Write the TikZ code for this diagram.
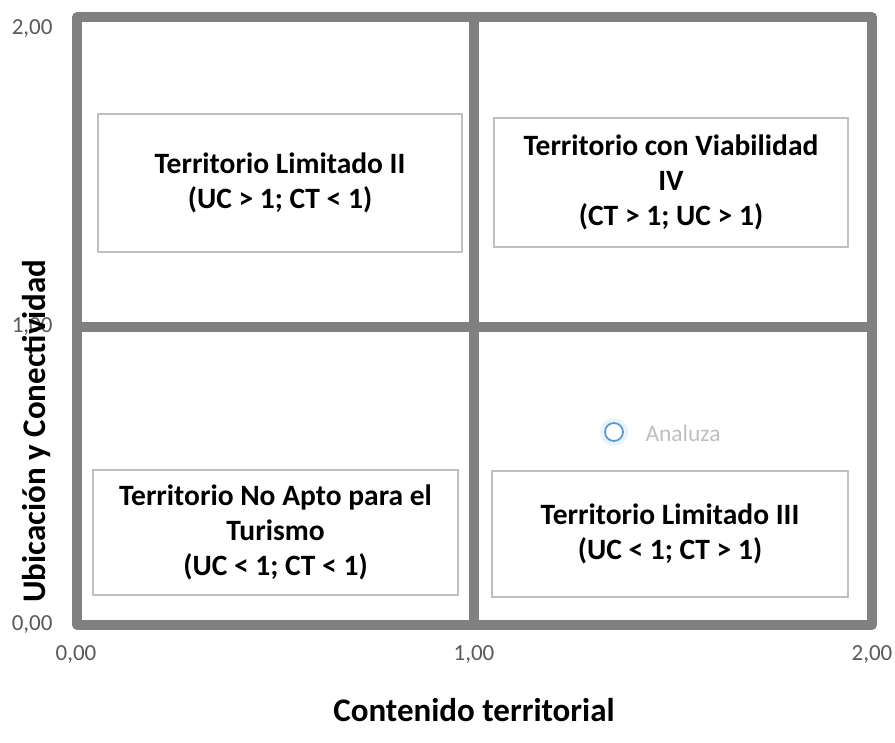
\documentclass[tikz,border=0pt]{standalone}
\usepackage{fontspec}
\setmainfont{Carlito}
\definecolor{framegray}{HTML}{808080}
\definecolor{boxgray}{HTML}{BFBFBF}
\definecolor{tickgray}{HTML}{595959}
\definecolor{pointblue}{HTML}{5B9BD5}
\tikzset{
  frame/.style={draw=framegray, line width=9.5pt, line join=round},
  quadbox/.style={draw=boxgray, line width=1.6pt, align=center, inner sep=0pt,
    font=\bfseries\fontsize{29.5}{35}\selectfont},
  ticklabel/.style={text=tickgray, font=\fontsize{23}{25}\selectfont},
  axistitle/.style={font=\bfseries\fontsize{33}{36}\selectfont}
}
\begin{document}
\begin{tikzpicture}[x=1pt, y=-1pt]
  \useasboundingbox (0,0) rectangle (895,743);
  % quadrant frame
  \coordinate (o) at (77,625);
  \coordinate (xm) at (474,625);
  \coordinate (xe) at (872,625);
  \coordinate (ym) at (77,327);
  \coordinate (ye) at (77,17);
  \coordinate (tm) at (474,17);
  \coordinate (rm) at (872,327);
  \draw[frame] (o) rectangle (872,17);
  \draw[frame] (xm) -- (tm);
  \draw[frame] (ym) -- (rm);
  % quadrant boxes
  \node[quadbox, minimum width=364pt, minimum height=138pt] (q2) at (280,183)
    {Territorio Limitado II\\(UC > 1; CT < 1)};
  \node[quadbox, minimum width=354pt, minimum height=129pt] (q4) at (671,182.5)
    {Territorio con Viabilidad\\IV\\(CT > 1; UC > 1)};
  \node[quadbox, minimum width=365pt, minimum height=125pt] (q1) at (275.5,532.5)
    {Territorio No Apto para el\\Turismo\\(UC < 1; CT < 1)};
  \node[quadbox, minimum width=356pt, minimum height=126pt] (q3) at (670,534)
    {Territorio Limitado III\\(UC < 1; CT > 1)};
  % tick labels
  \node[ticklabel, anchor=east] (y0) at (56,625) {0,00};
  \node[ticklabel, anchor=east] (y1) at (56,327) {1,00};
  \node[ticklabel, anchor=east] (y2) at (56,29) {2,00};
  \node[ticklabel] (x0) at (76,655) {0,00};
  \node[ticklabel] (x1) at (474,655) {1,00};
  \node[ticklabel] (x2) at (872,655) {2,00};
  % axis titles
  \node[axistitle] (xt) at (474,710) {Contenido territorial};
  \node[axistitle, rotate=90] (yt) at (36,431) {Ubicación y Conectividad};
  % data point
  \fill[pointblue!25, opacity=0.5] (614,432) circle (14pt);
  \draw[pointblue, line width=1.8pt, fill=white] (614,432) circle (9pt);
  \node[anchor=west, text=boxgray, font=\fontsize{23.5}{26}\selectfont] (pt) at (642,433) {Analuza};
\end{tikzpicture}
\end{document}
